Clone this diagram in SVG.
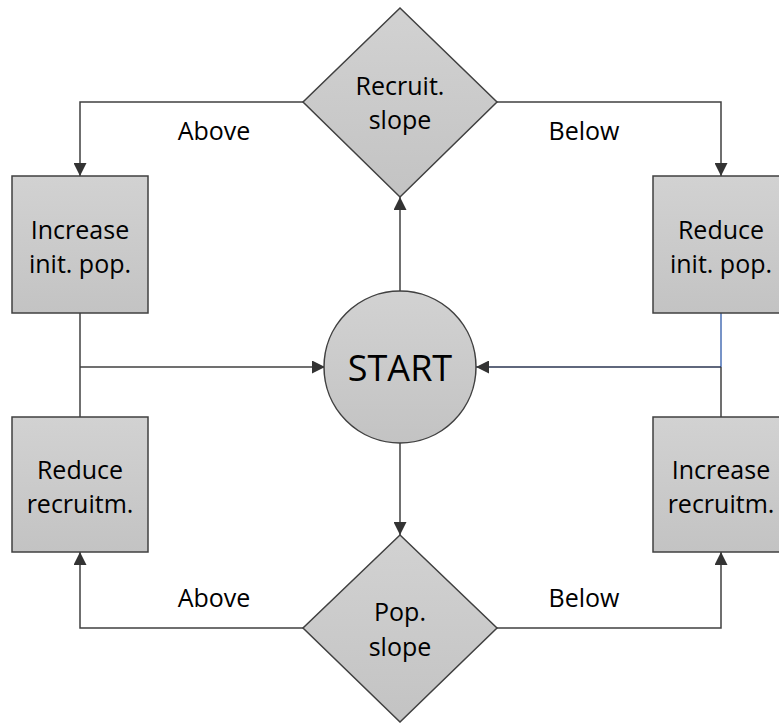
<svg xmlns="http://www.w3.org/2000/svg" width="779" height="723" viewBox="0 0 779 723">
<defs>
<linearGradient id="g" x1="0" y1="0" x2="0" y2="1">
<stop offset="0" stop-color="#d2d2d2"/>
<stop offset="1" stop-color="#c3c3c3"/>
</linearGradient>
<marker id="ah" viewBox="0 0 13 13" refX="13" refY="6.5" markerWidth="13" markerHeight="13" markerUnits="userSpaceOnUse" orient="auto">
<path d="M0,0 L13,6.5 L0,13 Z" fill="#333"/>
</marker>
<style>
.shape{fill:url(#g);stroke:#404040;stroke-width:1.5}
.t{font-family:"Open Sans","Noto Sans",sans-serif;fill:#000;text-anchor:middle}
.n{font-size:25px}
.lbl{font-size:25px}
.c{fill:none;stroke:#404040;stroke-width:1.5}
</style>
</defs>
<g id="connectors">
<path class="c" d="M303,102 H80 V176" marker-end="url(#ah)"/>
<path class="c" d="M497,102 H721 V176" marker-end="url(#ah)"/>
<path class="c" d="M400,291 V197" marker-end="url(#ah)"/>
<path class="c" d="M400,443 V535" marker-end="url(#ah)"/>
<path class="c" d="M80,313 V417"/>
<path class="c" d="M80,367 H325" marker-end="url(#ah)"/>
<path class="c" d="M721,313 V367" style="stroke:#4a6fb5"/>
<path class="c" d="M721,367 V417"/>
<path class="c" d="M721,367 H476" style="stroke:#2a3550" marker-end="url(#ah)"/>
<path class="c" d="M303,628 H80 V552" marker-end="url(#ah)"/>
<path class="c" d="M497,628 H721 V552" marker-end="url(#ah)"/>
<text class="t lbl" x="214" y="140">Above</text>
<text class="t lbl" x="584" y="140">Below</text>
<text class="t lbl" x="214" y="607">Above</text>
<text class="t lbl" x="584" y="607">Below</text>
</g>
<g id="recruit-slope">
<path class="shape" d="M400,8 L497,102 L400,197 L303,102 Z"/>
<text class="t n" x="400" y="95">Recruit.</text>
<text class="t n" x="400" y="129">slope</text>
</g>
<g id="start">
<circle class="shape" cx="400" cy="367" r="76"/>
<text class="t" x="400" y="381" style="font-size:36px">START</text>
</g>
<g id="pop-slope">
<path class="shape" d="M400,535 L497,628 L400,722 L303,628 Z"/>
<text class="t n" x="400" y="621">Pop.</text>
<text class="t n" x="400" y="656">slope</text>
</g>
<g id="increase-init-pop">
<rect class="shape" x="12" y="176" width="136" height="137"/>
<text class="t n" x="80" y="239">Increase</text>
<text class="t n" x="80" y="273">init. pop.</text>
</g>
<g id="reduce-init-pop">
<rect class="shape" x="653" y="176" width="136" height="137"/>
<text class="t n" x="721" y="239">Reduce</text>
<text class="t n" x="721" y="273">init. pop.</text>
</g>
<g id="reduce-recruitm">
<rect class="shape" x="12" y="417" width="136" height="135"/>
<text class="t n" x="80" y="479">Reduce</text>
<text class="t n" x="80" y="513">recruitm.</text>
</g>
<g id="increase-recruitm">
<rect class="shape" x="653" y="417" width="136" height="135"/>
<text class="t n" x="721" y="479">Increase</text>
<text class="t n" x="721" y="513">recruitm.</text>
</g>
</svg>
